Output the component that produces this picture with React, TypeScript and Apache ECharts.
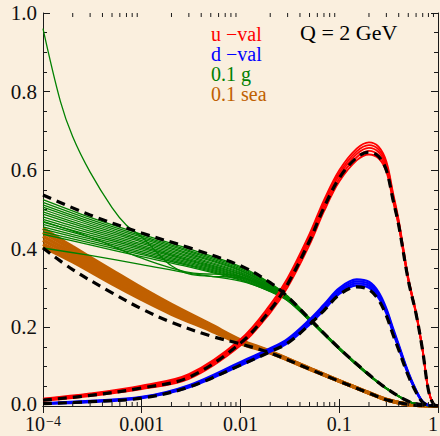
import React, { useEffect, useRef } from 'react';
import * as echarts from 'echarts';

const BG = '#FAEFDE';
const FONT = 'Liberation Serif';
const INK = '#1a1a1a';

// ---- x grids ----
const U_X = [1e-4, 3e-4, 1e-3, 3e-3, 0.01, 0.02, 0.03, 0.05, 0.07, 0.1, 0.15, 0.2, 0.25, 0.3, 0.35, 0.4, 0.5, 0.6, 0.7, 0.8, 0.9, 1];
const G_X = [1e-4, 3e-4, 1e-3, 3e-3, 0.01, 0.02, 0.03, 0.05, 0.1, 0.2, 0.3, 0.5, 0.7, 1];
const GOUT_X = [1e-4, 1.5e-4, 2e-4, 3e-4, 5e-4, 7e-4, 1e-3, 1.5e-3, 2e-3, 3e-3, 5e-3, 0.01, 0.02, 0.03, 0.05, 0.1, 0.2, 0.3, 0.5, 0.7, 1];
const S_X = [1e-4, 2e-4, 5e-4, 1e-3, 2e-3, 5e-3, 0.01, 0.02, 0.05, 0.1, 0.2, 0.3, 0.5, 0.7, 1];

// ---- u-valence ----
const uvCentral = [0.015, 0.027, 0.046, 0.073, 0.16, 0.244, 0.31, 0.42, 0.505, 0.58, 0.632, 0.646, 0.635, 0.60, 0.525, 0.46, 0.32, 0.234, 0.14, 0.04, 0.005, 0];
const uv1 = [0.019, 0.032, 0.052, 0.081, 0.170, 0.258, 0.326, 0.438, 0.524, 0.600, 0.655, 0.671, 0.660, 0.622, 0.543, 0.473, 0.327, 0.238, 0.142, 0.041, 0.005, 0];
const uv2 = [0.018, 0.030, 0.050, 0.078, 0.166, 0.252, 0.320, 0.431, 0.517, 0.593, 0.648, 0.664, 0.653, 0.616, 0.538, 0.469, 0.325, 0.237, 0.141, 0.041, 0.005, 0];
const uv3 = [0.016, 0.029, 0.048, 0.076, 0.163, 0.248, 0.315, 0.425, 0.511, 0.587, 0.641, 0.657, 0.646, 0.610, 0.533, 0.465, 0.323, 0.236, 0.141, 0.040, 0.005, 0];
const uv4 = [0.015, 0.027, 0.046, 0.073, 0.159, 0.243, 0.309, 0.418, 0.503, 0.579, 0.633, 0.649, 0.638, 0.603, 0.527, 0.461, 0.321, 0.235, 0.140, 0.040, 0.005, 0];
const uv5 = [0.013, 0.025, 0.043, 0.069, 0.154, 0.237, 0.302, 0.410, 0.495, 0.571, 0.625, 0.640, 0.630, 0.596, 0.522, 0.457, 0.319, 0.233, 0.139, 0.039, 0.005, 0];

// ---- d-valence ----
const dvCentral = [0.006, 0.011, 0.020, 0.048, 0.104, 0.138, 0.160, 0.207, 0.243, 0.283, 0.303, 0.296, 0.270, 0.230, 0.182, 0.143, 0.077, 0.035, 0.009, 0.002, 0.0005, 0];
const dv1 = [0.007, 0.013, 0.023, 0.053, 0.112, 0.147, 0.171, 0.220, 0.258, 0.300, 0.322, 0.316, 0.290, 0.248, 0.198, 0.156, 0.086, 0.040, 0.011, 0.002, 0.0005, 0];
const dv2 = [0.0065, 0.012, 0.022, 0.051, 0.109, 0.144, 0.167, 0.215, 0.253, 0.295, 0.317, 0.311, 0.285, 0.244, 0.194, 0.153, 0.084, 0.039, 0.011, 0.002, 0.0005, 0];
const dv3 = [0.006, 0.011, 0.021, 0.049, 0.106, 0.141, 0.164, 0.211, 0.248, 0.290, 0.312, 0.306, 0.280, 0.240, 0.190, 0.150, 0.082, 0.038, 0.010, 0.002, 0.0005, 0];
const dv4 = [0.0055, 0.010, 0.020, 0.047, 0.103, 0.138, 0.160, 0.207, 0.244, 0.285, 0.307, 0.301, 0.275, 0.236, 0.187, 0.147, 0.080, 0.037, 0.010, 0.002, 0.0005, 0];

// ---- 0.1 gluon ----
const gCentral = [0.537, 0.486, 0.440, 0.403, 0.357, 0.314, 0.278, 0.222, 0.147, 0.080, 0.045, 0.012, 0.003, 0];
const g1 = [0.525, 0.480, 0.437, 0.400, 0.355, 0.313, 0.280, 0.224, 0.149, 0.081, 0.046, 0.012, 0.003, 0];
const g2 = [0.518, 0.475, 0.433, 0.396, 0.352, 0.311, 0.279, 0.224, 0.148, 0.080, 0.046, 0.012, 0.003, 0];
const g3 = [0.512, 0.470, 0.429, 0.393, 0.349, 0.309, 0.278, 0.223, 0.148, 0.080, 0.046, 0.012, 0.003, 0];
const g4 = [0.506, 0.465, 0.425, 0.389, 0.346, 0.307, 0.277, 0.223, 0.147, 0.080, 0.045, 0.012, 0.003, 0];
const g5 = [0.500, 0.460, 0.421, 0.386, 0.344, 0.306, 0.276, 0.222, 0.147, 0.080, 0.045, 0.012, 0.003, 0];
const g6 = [0.494, 0.455, 0.417, 0.382, 0.341, 0.304, 0.275, 0.222, 0.147, 0.079, 0.045, 0.012, 0.003, 0];
const g7 = [0.488, 0.450, 0.413, 0.379, 0.339, 0.303, 0.274, 0.221, 0.147, 0.079, 0.045, 0.012, 0.003, 0];
const g8 = [0.481, 0.445, 0.409, 0.375, 0.336, 0.301, 0.273, 0.221, 0.146, 0.079, 0.045, 0.012, 0.003, 0];
const g9 = [0.475, 0.440, 0.405, 0.372, 0.334, 0.300, 0.273, 0.220, 0.146, 0.079, 0.045, 0.012, 0.003, 0];
const g10 = [0.468, 0.435, 0.401, 0.369, 0.331, 0.298, 0.272, 0.220, 0.146, 0.078, 0.044, 0.012, 0.003, 0];
const g11 = [0.462, 0.430, 0.397, 0.366, 0.329, 0.297, 0.271, 0.219, 0.145, 0.078, 0.044, 0.012, 0.003, 0];
const g12 = [0.456, 0.425, 0.393, 0.363, 0.327, 0.295, 0.270, 0.219, 0.145, 0.078, 0.044, 0.011, 0.003, 0];
const g13 = [0.450, 0.420, 0.389, 0.360, 0.325, 0.294, 0.270, 0.218, 0.145, 0.078, 0.044, 0.011, 0.003, 0];
const g14 = [0.443, 0.415, 0.385, 0.357, 0.322, 0.292, 0.269, 0.218, 0.144, 0.077, 0.044, 0.011, 0.003, 0];
const g15 = [0.437, 0.410, 0.380, 0.354, 0.320, 0.291, 0.268, 0.217, 0.144, 0.077, 0.044, 0.011, 0.003, 0];
const gDip1 = [0.470, 0.430, 0.376, 0.340, 0.330, 0.298, 0.272, 0.219, 0.146, 0.078, 0.045, 0.012, 0.003, 0];
const gDip2 = [0.402, 0.383, 0.360, 0.338, 0.318, 0.292, 0.268, 0.217, 0.145, 0.078, 0.044, 0.012, 0.003, 0];
const gOut = [0.960, 0.775, 0.685, 0.595, 0.505, 0.460, 0.430, 0.385, 0.357, 0.336, 0.330, 0.326, 0.298, 0.272, 0.219, 0.146, 0.079, 0.045, 0.012, 0.003, 0];

// ---- 0.1 sea ----
const sCentral = [0.402, 0.347, 0.288, 0.247, 0.213, 0.178, 0.158, 0.135, 0.094, 0.063, 0.033, 0.016, 0.004, 0.001, 0];
const s1 = [0.452, 0.405, 0.345, 0.300, 0.258, 0.207, 0.168, 0.139, 0.096, 0.064, 0.034, 0.017, 0.004, 0.001, 0];
const s2 = [0.442, 0.397, 0.338, 0.294, 0.253, 0.204, 0.166, 0.138, 0.096, 0.064, 0.034, 0.017, 0.004, 0.001, 0];
const s3 = [0.432, 0.389, 0.331, 0.288, 0.248, 0.201, 0.164, 0.137, 0.095, 0.064, 0.033, 0.016, 0.004, 0.001, 0];
const s4 = [0.422, 0.381, 0.324, 0.282, 0.243, 0.198, 0.162, 0.137, 0.095, 0.063, 0.033, 0.016, 0.004, 0.001, 0];
const s5 = [0.412, 0.373, 0.317, 0.276, 0.238, 0.195, 0.161, 0.136, 0.094, 0.063, 0.033, 0.016, 0.004, 0.001, 0];
const s6 = [0.405, 0.367, 0.311, 0.271, 0.234, 0.192, 0.159, 0.135, 0.094, 0.063, 0.033, 0.016, 0.004, 0.001, 0];

// ---- tick labels & texts ----
const xTicks = [1e-4, 1e-3, 0.01, 0.1, 1];
const xTickLabels = ['{b|10}{s|\u22124}', '0.001', '0.01', '0.1', '1'];
const yTicks = [0, 0.2, 0.4, 0.6, 0.8, 1.0];
const yTickLabels = ['0.0', '0.2', '0.4', '0.6', '0.8', '1.0'];
const legendLabels = ['u \u2212val', 'd \u2212val', '0.1 g', '0.1 sea'];
const scaleText = 'Q = 2 GeV';

const RED = '#FF0000';
const BLUE = '#0000FF';
const GREEN = '#008000';
const ORANGE = '#C06000';
const legendColors = [RED, BLUE, GREEN, ORANGE];

function line(xs: number[], ys: number[], color: string, width: number, dashed = false) {
  return {
    type: 'line',
    data: xs.map((x, i) => [x, ys[i]]),
    showSymbol: false,
    smooth: 0.35,
    silent: true,
    lineStyle: dashed
      ? { color: '#000', width: 3.2, type: [9, 6], cap: 'butt' }
      : { color, width, type: 'solid' },
  };
}

export default function App() {
  const ref = useRef<HTMLDivElement>(null);
  useEffect(() => {
    document.body.style.margin = '0';
    document.body.style.background = BG;
    const chart = echarts.init(ref.current!, null, { renderer: 'svg' });

    const minorX: number[] = [];
    for (let d = -4; d < 0; d++) for (let k = 2; k <= 9; k++) minorX.push(k * Math.pow(10, d));

    const axisLine = { show: true, lineStyle: { color: INK, width: 1 } };
    const xAxisBase = {
      type: 'log', logBase: 10, min: 1e-4, max: 1,
      axisLine, splitLine: { show: false }, axisLabel: { show: false },
      axisTick: { show: true, inside: true, length: 7, lineStyle: { color: INK } },
    };
    const yAxisBase = {
      type: 'value', min: 0, max: 1, interval: 0.2,
      axisLine, splitLine: { show: false }, axisLabel: { show: false },
      axisTick: { show: true, inside: true, length: 7, lineStyle: { color: INK } },
      minorTick: { show: true, splitNumber: 4, length: 4, lineStyle: { color: INK } },
      minorSplitLine: { show: false },
    };

    const series: any[] = [
      ...[s1, s2, s3, s4, s5, s6].map((s) => line(S_X, s, ORANGE, 3.5)),
      ...[g1, g2, g3, g4, g5, g6, g7, g8, g9, g10, g11, g12, g13, g14, g15, gDip1, gDip2].map((g) => line(G_X, g, GREEN, 1.3)),
      line(GOUT_X, gOut, GREEN, 1.3),
      ...[dv1, dv2, dv3, dv4].map((d) => line(U_X, d, BLUE, 2.2)),
      ...[uv1, uv2, uv3, uv4, uv5].map((u) => line(U_X, u, RED, 1.8)),
      line(G_X, gCentral, '#000', 3, true),
      line(S_X, sCentral, '#000', 3, true),
      line(U_X, uvCentral, '#000', 3, true),
      line(U_X, dvCentral, '#000', 3, true),
      {
        type: 'custom',
        silent: true,
        z: 10,
        data: minorX.map((v) => [v, 0]),
        renderItem: (params: any, api: any) => {
          const v = api.value(0);
          const b = api.coord([v, 0]);
          const t = api.coord([v, 1]);
          return {
            type: 'group',
            children: [
              { type: 'line', shape: { x1: b[0], y1: b[1], x2: b[0], y2: b[1] - 4 }, style: { stroke: INK, lineWidth: 1 } },
              { type: 'line', shape: { x1: t[0], y1: t[1], x2: t[0], y2: t[1] + 4 }, style: { stroke: INK, lineWidth: 1 } },
            ],
          };
        },
      },
    ];

    chart.setOption({
      animation: false,
      backgroundColor: BG,
      grid: { left: 43, right: 2, top: 13, bottom: 30, containLabel: false },
      xAxis: [
        { ...xAxisBase, position: 'bottom' },
        { ...xAxisBase, position: 'top' },
      ],
      yAxis: [
        { ...yAxisBase, position: 'left' },
        { ...yAxisBase, position: 'right' },
      ],
      series,
    });

    const toPx = (x: number, y: number) => chart.convertToPixel({ xAxisIndex: 0, yAxisIndex: 0 }, [x, y]) as number[];
    const graphic: any[] = [];

    yTicks.forEach((v, i) => {
      const p = toPx(1e-4, v);
      graphic.push({
        type: 'text', x: p[0] - 6, y: v === 0 ? p[1] - 2 : p[1], silent: true,
        style: {
          text: yTickLabels[i], fill: '#111', fontSize: 21, fontFamily: FONT,
          align: 'right', verticalAlign: 'middle', textAlign: 'right', textVerticalAlign: 'middle',
        },
      });
    });
    xTicks.forEach((v, i) => {
      const p = toPx(v, 0);
      graphic.push({
        type: 'text', x: Math.min(p[0], 433), y: p[1] + 18, silent: true,
        style: {
          text: xTickLabels[i], fill: '#111', fontSize: 20, fontFamily: FONT,
          align: 'center', verticalAlign: 'middle', textAlign: 'center', textVerticalAlign: 'middle',
          rich: {
            b: { fill: '#111', fontSize: 20, fontFamily: FONT, lineHeight: 19 },
            s: { fill: '#111', fontSize: 14, fontFamily: FONT, lineHeight: 12, verticalAlign: 'top', padding: [0, 0, 0, 1] },
          },
        },
      });
    });

    const keys = ['r', 'b', 'g', 'o'];
    const rich: any = {};
    keys.forEach((k, i) => {
      rich[k] = { fill: legendColors[i], fontSize: 20, fontFamily: FONT, lineHeight: 20 };
    });
    graphic.push({
      type: 'text', left: 211, top: 24, silent: true,
      style: {
        text: legendLabels.map((t, i) => `{${keys[i]}|${t}}`).join('\n'),
        rich, fontSize: 20, fontFamily: FONT,
      },
    });
    graphic.push({
      type: 'text', left: 300, top: 21, silent: true,
      style: { text: scaleText, fill: '#000', fontSize: 22, fontFamily: FONT },
    });

    chart.setOption({ graphic });
    return () => chart.dispose();
  }, []);
  return <div ref={ref} style={{ width: 440, height: 436 }} />;
}
